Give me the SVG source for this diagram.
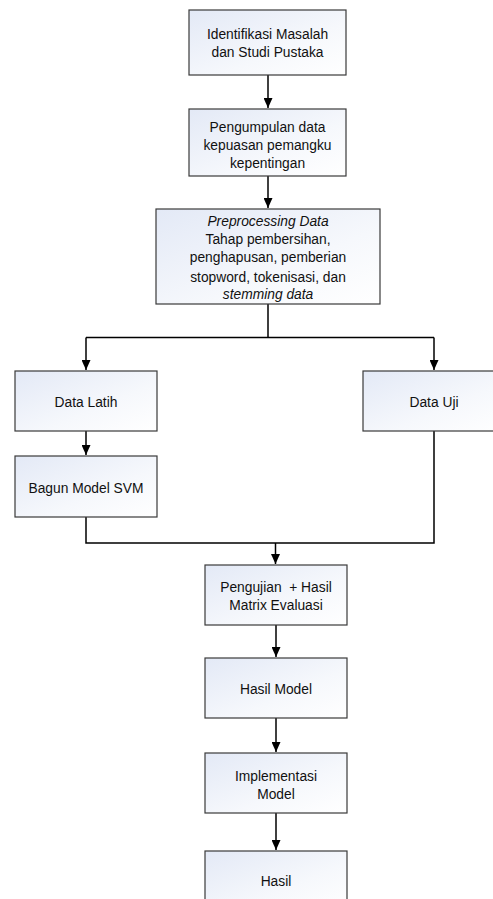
<svg xmlns="http://www.w3.org/2000/svg" width="493" height="899" viewBox="0 0 493 899">
<defs>
<linearGradient id="g" x1="0" y1="0" x2="1" y2="1">
<stop offset="0" stop-color="#e3e9f6"/>
<stop offset="0.6" stop-color="#f6f8fc"/>
<stop offset="1" stop-color="#ffffff"/>
</linearGradient>
<marker id="ah" markerWidth="10" markerHeight="9" refX="10" refY="4.5" orient="auto" markerUnits="userSpaceOnUse">
<path d="M0,0 L10,4.5 L0,9 Z" fill="#000"/>
</marker>
<style>
.box{fill:url(#g);stroke:#3a3a3a;stroke-width:1.2}
.t{font-family:"Liberation Sans",Arial,sans-serif;font-size:13.8px;fill:#111;text-anchor:middle}
.i{font-style:italic}
.c{fill:none;stroke:#000;stroke-width:1.5}
.a{marker-end:url(#ah)}
</style>
</defs>
<g id="connectors">
<path class="c a" d="M268,75 V108"/>
<path class="c a" d="M268,176 V208"/>
<path class="c" d="M268,304 V337.5 M86,337.5 H434"/>
<path class="c a" d="M86,337.5 V370"/>
<path class="c a" d="M434,337.5 V370"/>
<path class="c a" d="M86,431 V455"/>
<path class="c" d="M86,517 V543 H434 V431"/>
<path class="c a" d="M275.5,543 V564"/>
<path class="c a" d="M276,625 V657"/>
<path class="c a" d="M276,718 V752"/>
<path class="c a" d="M276,813 V850"/>
</g>
<g id="n1">
<rect class="box" x="189" y="10" width="157" height="65"/>
<text class="t" x="267.5" y="38.5">Identifikasi Masalah</text>
<text class="t" x="267.5" y="57">dan Studi Pustaka</text>
</g>
<g id="n2">
<rect class="box" x="189" y="109" width="157" height="67"/>
<text class="t" x="267.5" y="131.5">Pengumpulan data</text>
<text class="t" x="267.5" y="149.5">kepuasan pemangku</text>
<text class="t" x="267.5" y="168">kepentingan</text>
</g>
<g id="n3">
<rect class="box" x="156" y="209" width="224" height="95"/>
<text class="t i" x="268" y="226">Preprocessing Data</text>
<text class="t" x="268" y="243.5">Tahap pembersihan,</text>
<text class="t" x="268" y="262">penghapusan, pemberian</text>
<text class="t" x="268" y="281.5">stopword, tokenisasi, dan</text>
<text class="t i" x="268" y="299">stemming data</text>
</g>
<g id="n4">
<rect class="box" x="15" y="371" width="142" height="60"/>
<text class="t" x="86" y="407">Data Latih</text>
</g>
<g id="n5">
<rect class="box" x="363" y="371" width="142" height="60"/>
<text class="t" x="434" y="407">Data Uji</text>
</g>
<g id="n6">
<rect class="box" x="15" y="456" width="142" height="61"/>
<text class="t" x="86" y="493">Bagun Model SVM</text>
</g>
<g id="n7">
<rect class="box" x="205" y="565" width="142" height="60"/>
<text class="t" x="276" y="592" xml:space="preserve">Pengujian  + Hasil</text>
<text class="t" x="276" y="610">Matrix Evaluasi</text>
</g>
<g id="n8">
<rect class="box" x="205" y="658" width="142" height="60"/>
<text class="t" x="276" y="694">Hasil Model</text>
</g>
<g id="n9">
<rect class="box" x="205" y="753" width="142" height="60"/>
<text class="t" x="276" y="781">Implementasi</text>
<text class="t" x="276" y="799">Model</text>
</g>
<g id="n10">
<rect class="box" x="205" y="851" width="142" height="60"/>
<text class="t" x="276" y="886">Hasil</text>
</g>
</svg>
